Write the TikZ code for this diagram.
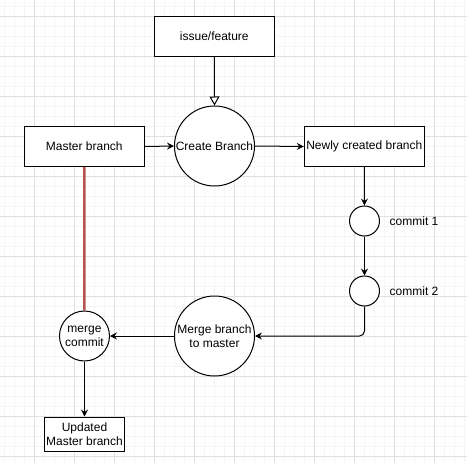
\documentclass[tikz,border=0pt]{standalone}
\usepackage{fontspec}
\setmainfont{Liberation Sans}
\usetikzlibrary{arrows.meta}
\begin{document}
\begin{tikzpicture}[x=1pt,y=-1pt,
  every node/.style={font=\fontsize{12}{14}\selectfont, inner sep=0pt, align=center},
  box/.style={draw, line width=1pt, fill=white, minimum width=120pt, minimum height=40pt},
  smallbox/.style={draw, line width=1pt, fill=white, minimum width=80pt, minimum height=34pt},
  bigcirc/.style={draw, line width=1pt, fill=white, circle, minimum size=80pt},
  midcirc/.style={draw, line width=1pt, fill=white, circle, minimum size=50pt},
  dot/.style={draw, line width=1pt, fill=white, circle, minimum size=30pt},
  conn/.style={line width=1pt, -{Stealth[length=7pt,width=7pt,inset=2.5pt]}},
  openconn/.style={line width=1pt, -{Triangle[open,fill=white,length=9pt,width=10pt]}},
  redline/.style={line width=2.5pt, draw={rgb,255:red,184;green,84;blue,80}},
  minorgrid/.style={draw={rgb,255:red,245;green,245;blue,245}, line width=0.8pt},
  majorgrid/.style={draw={rgb,255:red,224;green,224;blue,224}, line width=0.8pt}]
\useasboundingbox (0,0) rectangle (467,463);
\fill[white] (0,0) rectangle (467,463);
% grid
\foreach \i in {0,...,46} {
  \draw[minorgrid] (4.3+10*\i,0) -- (4.3+10*\i,463);
  \draw[minorgrid] (0,6+10*\i) -- (467,6+10*\i);
}
\foreach \i in {0,...,11} {
  \draw[majorgrid] (34.3+40*\i,0) -- (34.3+40*\i,463);
  \draw[majorgrid] (0,16+40*\i) -- (467,16+40*\i);
}
% nodes
\node[box] (issue) at (214.3,36) {issue/feature};
\node[box] (master) at (84.3,146.5) {Master branch};
\node[bigcirc] (create) at (214.5,146) {Create Branch};
\node[box] (newly) at (364.3,146.5) {Newly created branch};
\node[dot] (c1) at (364.5,221) {};
\node[dot] (c2) at (364.5,291) {};
\node[anchor=west] (l1) at (389.5,221) {commit 1};
\node[anchor=west] (l2) at (389.5,291) {commit 2};
\node[bigcirc] (merge) at (214.5,336) {Merge branch\\to master};
\node[midcirc] (mc) at (84.5,336) {merge\\commit};
\node[smallbox] (upd) at (84.5,434) {Updated\\Master branch};
% connectors
\draw[redline] (master.south) -- (mc.north);
\draw[openconn] (issue.south) -- (create.north);
\draw[conn] (master.east) -- (create.west);
\draw[conn] (create.east) -- (newly.west);
\draw[conn] (newly.south) -- (c1.north);
\draw[conn] (c1.south) -- (c2.north);
\draw[conn, rounded corners=5pt] (c2.south) |- (merge.east);
\draw[conn] (merge.west) -- (mc.east);
\draw[conn] (mc.south) -- (upd.north);
\end{tikzpicture}
\end{document}
